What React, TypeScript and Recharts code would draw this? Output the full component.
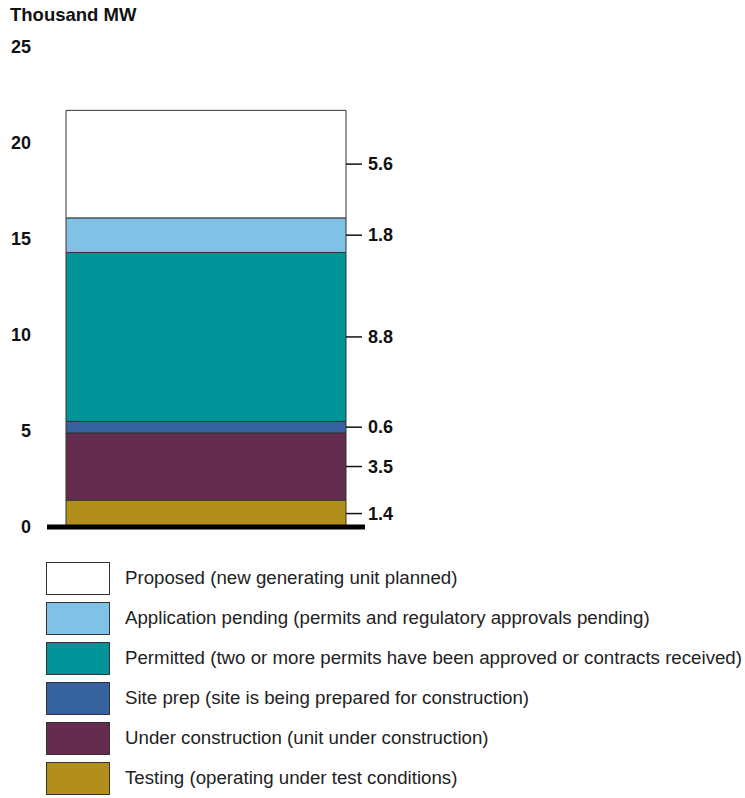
import React from "react";
import { BarChart, Bar, XAxis, YAxis, ReferenceLine, LabelList, Legend } from "recharts";

// Capacity by development stage, thousand MW (stacked bottom to top)
const categories = ["All planned capacity"];
const testing = [1.4];
const underConstruction = [3.5];
const sitePrep = [0.6];
const permitted = [8.8];
const applicationPending = [1.8];
const proposed = [5.6];
const yTicks = [0, 5, 10, 15, 20, 25];

const seriesDefs = [
  { key: "testing", values: testing, name: "Testing", note: "(operating under test conditions)", color: "#b28e1a" },
  { key: "underConstruction", values: underConstruction, name: "Under construction", note: "(unit under construction)", color: "#642d4f" },
  { key: "sitePrep", values: sitePrep, name: "Site prep", note: "(site is being prepared for construction)", color: "#3762a0" },
  { key: "permitted", values: permitted, name: "Permitted", note: "(two or more permits have been approved or contracts received)", color: "#009498" },
  { key: "applicationPending", values: applicationPending, name: "Application pending", note: "(permits and regulatory approvals pending)", color: "#7fc2e6" },
  { key: "proposed", values: proposed, name: "Proposed", note: "(new generating unit planned)", color: "#ffffff" },
];

const data = categories.map((c, i) => {
  const row: Record<string, string | number> = { category: c };
  seriesDefs.forEach((s) => {
    row[s.key] = s.values[i];
  });
  return row;
});

const FONT = "'Liberation Sans', Arial, Helvetica, sans-serif";

const YTick = (props: any) => {
  const { y, payload } = props;
  return (
    <text x={31} y={y} textAnchor="end" dominantBaseline="central" fontFamily={FONT} fontSize={18} fontWeight="bold" fill="#111">
      {payload.value}
    </text>
  );
};

const SideLabel = (props: any) => {
  const { x, y, width, height, value } = props;
  const right = x + width;
  const mid = y + height / 2;
  return (
    <g>
      <line x1={right} x2={right + 16} y1={mid} y2={mid} stroke="#111" strokeWidth={1.5} />
      <text x={right + 22} y={mid} dominantBaseline="central" fontFamily={FONT} fontSize={18} fontWeight="bold" fill="#111">
        {Number(value).toFixed(1)}
      </text>
    </g>
  );
};

const LegendContent = () => {
  const items = [...seriesDefs].reverse();
  return (
    <div style={{ fontFamily: FONT }}>
      {items.map((s) => (
        <div key={s.key} style={{ display: "flex", alignItems: "center", height: 40 }}>
          <div
            style={{
              marginLeft: 46,
              width: 62,
              height: 31,
              background: s.color,
              border: "1px solid #333",
            }}
          />
          <div style={{ marginLeft: 15, fontSize: 18.7, color: "#222", whiteSpace: "nowrap" }}>
            {s.name} {s.note}
          </div>
        </div>
      ))}
    </div>
  );
};

export default function App() {
  return (
    <div style={{ position: "absolute", left: 0, top: 0, width: 745, height: 798, background: "#fff" }}>
      <div
        style={{
          position: "absolute",
          left: 10,
          top: 4,
          fontFamily: FONT,
          fontWeight: "bold",
          fontSize: 18.5,
          color: "#111",
          zIndex: 2,
        }}
      >
        Thousand MW
      </div>
      <BarChart width={745} height={798} data={data} margin={{ top: 47, right: 380, bottom: 271, left: 0 }}>
        <XAxis dataKey="category" hide />
        <YAxis
          width={47}
          domain={[0, 25]}
          ticks={yTicks}
          axisLine={false}
          tickLine={false}
          tick={<YTick />}
          interval={0}
        />
        {seriesDefs.map((s) => (
          <Bar
            key={s.key}
            dataKey={s.key}
            name={s.name}
            stackId="stages"
            fill={s.color}
            stroke="#333"
            strokeWidth={1}
            barSize={280}
            isAnimationActive={false}
          >
            <LabelList dataKey={s.key} content={<SideLabel />} />
          </Bar>
        ))}
        <ReferenceLine y={0} stroke="#000" strokeWidth={5} />
        <Legend
          layout="vertical"
          align="center"
          verticalAlign="middle"
          content={<LegendContent />}
          wrapperStyle={{ top: 558, left: 0, width: 745 }}
        />
      </BarChart>
    </div>
  );
}
